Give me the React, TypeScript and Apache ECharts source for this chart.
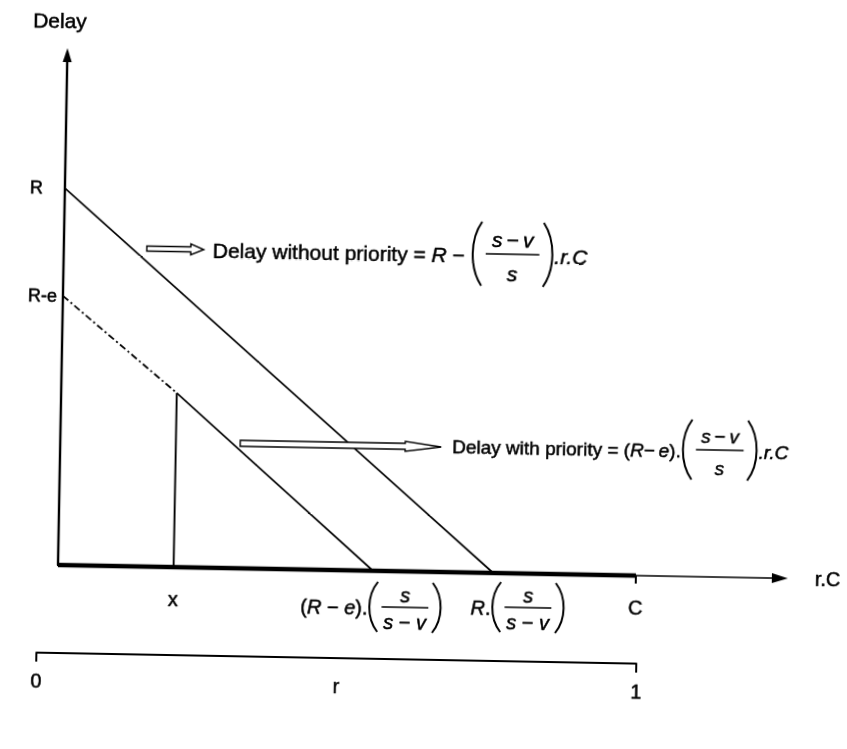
import React, { useEffect, useRef } from 'react';
import * as echarts from 'echarts';

const FONT = '"Liberation Sans", Arial, Helvetica, sans-serif';

// x in units of C (the r.C axis runs 0..C), y in units of R
const delayWithoutPriority: [number, number][] = [[0, 1.0], [0.753, 0]];
const delayWithPriorityDashed: [number, number][] = [[0, 0.714], [0.2, 0.462]];
const delayWithPrioritySolid: [number, number][] = [[0.2, 0.462], [0.545, 0]];
const xMarker: [number, number][] = [[0.2, 0], [0.2, 0.462]];
const capacitySpan: [number, number][] = [[0, 0], [1, 0]];

const yTickValues = [0.714, 1.0];
const yTickLabels = ['R-e', 'R'];
const xTickValues = [0.2, 1.0];
const xTickLabels = ['x', 'C'];
const xCapacityTick = [1.0];
const rScaleTicks = [0, 1];
const rScaleLabelValues = [0, 0.5, 1];
const rScaleLabels = ['0', 'r', '1'];

type Seg = { s: string; it?: boolean };
type Piece =
  | { k: 'txt'; segs: Seg[] }
  | { k: 'frac'; num: Seg[]; den: Seg[] }
  | { k: 'paren'; side: 'l' | 'r' };

const TH = '\u2009';

const formulaWithout: Piece[] = [
  { k: 'txt', segs: [{ s: 'Delay without priority = ' }, { s: 'R', it: true }, { s: ' − ' }] },
  { k: 'paren', side: 'l' },
  { k: 'frac', num: [{ s: 's', it: true }, { s: TH + '−' + TH }, { s: 'v', it: true }], den: [{ s: 's', it: true }] },
  { k: 'paren', side: 'r' },
  { k: 'txt', segs: [{ s: '.r.C', it: true }] },
];
const formulaWith: Piece[] = [
  { k: 'txt', segs: [{ s: 'Delay with priority = (' }, { s: 'R', it: true }, { s: '−' + TH }, { s: 'e', it: true }, { s: ').' }] },
  { k: 'paren', side: 'l' },
  { k: 'frac', num: [{ s: 's', it: true }, { s: TH + '−' + TH }, { s: 'v', it: true }], den: [{ s: 's', it: true }] },
  { k: 'paren', side: 'r' },
  { k: 'txt', segs: [{ s: '.r.C', it: true }] },
];
const labelWithZero: Piece[] = [
  { k: 'txt', segs: [{ s: '(' }, { s: 'R', it: true }, { s: ' − ' }, { s: 'e', it: true }, { s: ').' }] },
  { k: 'paren', side: 'l' },
  { k: 'frac', num: [{ s: 's', it: true }], den: [{ s: 's', it: true }, { s: ' − ' }, { s: 'v', it: true }] },
  { k: 'paren', side: 'r' },
];
const labelWithoutZero: Piece[] = [
  { k: 'txt', segs: [{ s: 'R', it: true }, { s: '.' }] },
  { k: 'paren', side: 'l' },
  { k: 'frac', num: [{ s: 's', it: true }], den: [{ s: 's', it: true }, { s: ' − ' }, { s: 'v', it: true }] },
  { k: 'paren', side: 'r' },
];

const INK = 0.5; // slight stroke to match the heavier scanned type

const fontOf = (it: boolean, size: number) => `${it ? 'italic ' : ''}${size}px ${FONT}`;
let mctx: CanvasRenderingContext2D | null = null;
function textW(s: string, it: boolean, size: number) {
  if (!mctx) mctx = document.createElement('canvas').getContext('2d');
  mctx!.font = fontOf(it, size);
  return mctx!.measureText(s).width;
}

type FOpts = { size: number; parenH: number; numDy: number; denDy: number; fracPad: number; parenW: number; center?: boolean };

function formula(pieces: Piece[], x0: number, cy: number, o: FOpts) {
  const segsW = (segs: Seg[]) => segs.reduce((a, g) => a + textW(g.s, !!g.it, o.size), 0);
  const pw = (p: Piece) =>
    p.k === 'txt' ? segsW(p.segs) : p.k === 'frac' ? Math.max(segsW(p.num), segsW(p.den)) + o.fracPad : o.parenW;
  const total = pieces.reduce((a, p) => a + pw(p), 0);
  let x = o.center ? x0 - total / 2 : x0;
  const out: any[] = [];
  const putSegs = (segs: Seg[], sx: number, y: number) => {
    let cx = sx;
    for (const g of segs) {
      out.push({
        type: 'text',
        x: cx,
        y,
        z: 50,
        silent: true,
        style: {
          text: g.s,
          font: fontOf(!!g.it, o.size),
          fill: '#000',
          stroke: '#000',
          lineWidth: INK,
          textAlign: 'left',
          textVerticalAlign: 'middle',
          align: 'left',
          verticalAlign: 'middle',
        },
      });
      cx += textW(g.s, !!g.it, o.size);
    }
  };
  const barY = cy - 1;
  for (const p of pieces) {
    const w = pw(p);
    if (p.k === 'txt') putSegs(p.segs, x, cy);
    else if (p.k === 'frac') {
      const nw = segsW(p.num);
      const dw = segsW(p.den);
      out.push({
        type: 'line',
        z: 50,
        silent: true,
        shape: { x1: x + 2, y1: barY, x2: x + w - 2, y2: barY },
        style: { stroke: '#000', lineWidth: 1.6 },
      });
      putSegs(p.num, x + (w - nw) / 2, barY + o.numDy);
      putSegs(p.den, x + (w - dw) / 2, barY + o.denDy);
    } else {
      const h = o.parenH / 2;
      const edge = p.side === 'l' ? x + o.parenW - 2 : x + 2;
      const ctrl = p.side === 'l' ? x - 1 : x + o.parenW + 1;
      out.push({
        type: 'bezierCurve',
        z: 50,
        silent: true,
        shape: {
          x1: edge, y1: barY - h,
          cpx1: ctrl, cpy1: barY - h * 0.45,
          cpx2: ctrl, cpy2: barY + h * 0.45,
          x2: edge, y2: barY + h,
        },
        style: { stroke: '#000', lineWidth: 2, fill: null },
      });
    }
    x += w;
  }
  return out;
}

function hollowArrow(x1: number, x2: number, y: number, shaftH: number, headL: number, headH: number) {
  const hx = x2 - headL;
  return {
    type: 'polygon',
    z: 40,
    silent: true,
    shape: {
      points: [
        [x1, y - shaftH / 2],
        [hx, y - shaftH / 2],
        [hx, y - headH / 2],
        [x2, y],
        [hx, y + headH / 2],
        [hx, y + shaftH / 2],
        [x1, y + shaftH / 2],
      ],
    },
    style: { fill: '#fff', stroke: '#000', lineWidth: 1.4 },
  };
}

const pick = (vals: number[], labels: string[]) => (v: number) => {
  const i = vals.findIndex((t) => Math.abs(t - v) < 1e-6);
  return i >= 0 ? labels[i] : '';
};

export default function App() {
  const ref = useRef<HTMLDivElement>(null);
  useEffect(() => {
    const el = ref.current!;
    const chart = echarts.init(el, null, { renderer: 'svg' });
    const lbl = {
      color: '#000',
      fontFamily: FONT,
      fontSize: 20,
      textBorderColor: '#000',
      textBorderWidth: INK,
    };
    const line = (name: string, data: [number, number][], width: number, type: any = 'solid') => ({
      type: 'line',
      name,
      data,
      xAxisIndex: 0,
      yAxisIndex: 0,
      symbol: 'none',
      silent: true,
      clip: false,
      lineStyle: { color: '#000', width, type },
      z: 3,
    });
    chart.setOption({
      animation: false,
      backgroundColor: '#fff',
      textStyle: { fontFamily: FONT, color: '#000' },
      grid: [
        { left: 58, top: 55, right: 67, bottom: 184, outerBoundsMode: 'none' },
        { left: 38, right: 209, top: 600, height: 53, outerBoundsMode: 'none' },
      ],
      xAxis: [
        {
          type: 'value',
          gridIndex: 0,
          min: 0,
          max: 1.249,
          name: 'r.C',
          nameLocation: 'end',
          nameGap: 35,
          nameTextStyle: lbl,
          axisLine: {
            show: true,
            symbol: ['none', 'triangle'],
            symbolSize: [10, 16],
            lineStyle: { color: '#000', width: 1.6 },
          },
          axisTick: { show: true, customValues: xCapacityTick, length: 8, lineStyle: { color: '#000', width: 2 } },
          axisLabel: { ...lbl, customValues: xTickValues, margin: 22, formatter: pick(xTickValues, xTickLabels) },
          splitLine: { show: false },
        },
        {
          type: 'value',
          gridIndex: 1,
          min: 0,
          max: 1,
          axisLine: { show: true, lineStyle: { color: '#000', width: 2 } },
          axisTick: { show: true, customValues: rScaleTicks, length: 9, lineStyle: { color: '#000', width: 2 } },
          axisLabel: {
            ...lbl,
            customValues: rScaleLabelValues,
            margin: 18,
            formatter: pick(rScaleLabelValues, rScaleLabels),
          },
          splitLine: { show: false },
        },
      ],
      yAxis: [
        {
          type: 'value',
          gridIndex: 0,
          min: 0,
          max: 1.353,
          name: 'Delay',
          nameLocation: 'end',
          nameGap: 24,
          nameTextStyle: { ...lbl, fontSize: 21, padding: [0, 16, 0, 0] },
          axisLine: {
            show: true,
            symbol: ['none', 'triangle'],
            symbolSize: [9, 14],
            lineStyle: { color: '#000', width: 2.4 },
          },
          axisTick: { show: false },
          axisLabel: {
            ...lbl,
            fontSize: 18,
            customValues: yTickValues,
            margin: 35,
            align: 'left',
            formatter: pick(yTickValues, yTickLabels),
          },
          splitLine: { show: false },
        },
        { type: 'value', gridIndex: 1, show: false, min: 0, max: 1 },
      ],
      series: [
        line('Delay without priority', delayWithoutPriority, 1.7),
        line('Delay with priority (before x)', delayWithPriorityDashed, 1.8, [7, 3, 2, 3]),
        line('Delay with priority', delayWithPrioritySolid, 1.7),
        line('x', xMarker, 1.9),
        line('0..C', capacitySpan, 4.5),
      ],
    });

    const px = (p: [number, number]) => chart.convertToPixel({ xAxisIndex: 0, yAxisIndex: 0 }, p) as number[];
    const zeroWith = px(delayWithPrioritySolid[1]);
    const zeroWithout = px(delayWithoutPriority[1]);
    const f1: FOpts = { size: 21, parenH: 64, numDy: -15, denDy: 19, fracPad: 16, parenW: 13 };
    const f2: FOpts = { size: 19, parenH: 60, numDy: -14, denDy: 18, fracPad: 14, parenW: 13 };
    const fb: FOpts = { size: 20, parenH: 50, numDy: -12, denDy: 15, fracPad: 8, parenW: 12 };
    const graphic: any[] = [
      hollowArrow(141, 198, 247, 5, 13, 11),
      hollowArrow(238, 439, 440, 6, 36, 10),
      ...formula(formulaWithout, 207, 247, f1),
      ...formula(formulaWith, 450, 439, f2),
      ...formula(labelWithZero, zeroWith[0] - 1, 602, { ...fb, center: true }),
      ...formula(labelWithoutZero, zeroWithout[0] - 22, 600, fb),
    ];
    chart.setOption({ graphic });

    return () => chart.dispose();
  }, []);
  return (
    <div
      ref={ref}
      style={{
        position: 'fixed',
        left: 0,
        top: 0,
        width: 847,
        height: 749,
        background: '#fff',
        transform: 'rotate(1.05deg)',
        transformOrigin: '58px 565px',
      }}
    />
  );
}
